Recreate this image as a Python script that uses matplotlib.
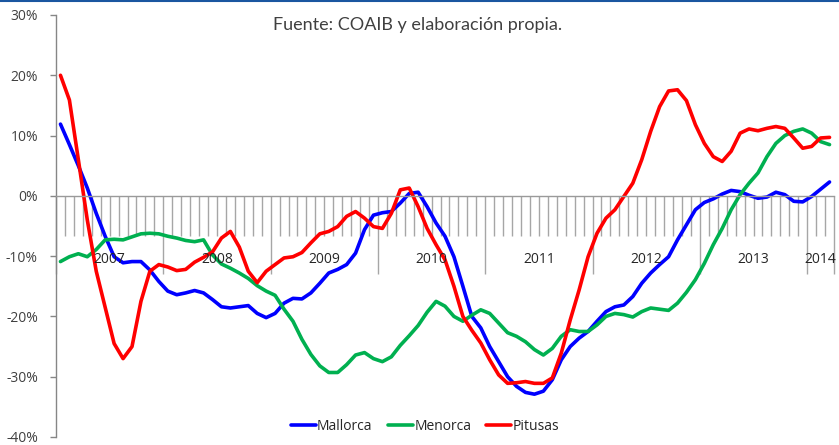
import numpy as np
import matplotlib
matplotlib.use("Agg")
import matplotlib.pyplot as plt
from matplotlib.ticker import FixedLocator, FuncFormatter

plt.rcParams['font.family'] = ['Open Sans', 'DejaVu Sans']

years = ["2007", "2008", "2009", "2010", "2011", "2012", "2013", "2014"]
months_per_year = [12, 12, 12, 12, 12, 12, 12, 3]

mallorca = [11.9, 8.5, 5.0, 1.3, -2.9, -6.7, -10.1, -11.1, -10.9, -10.9,
            -12.3, -14.2, -15.8, -16.4, -16.1, -15.7, -16.1, -17.2, -18.4, -18.6,
            -18.4, -18.2, -19.5, -20.2, -19.5, -17.8, -17.0, -17.1, -16.1, -14.5,
            -12.8, -12.2, -11.4, -9.5, -5.6, -3.2, -2.8, -2.6, -1.2, 0.4,
            0.6, -1.8, -4.5, -6.7, -10.1, -15.0, -20.0, -21.9, -25.0, -27.5,
            -30.0, -31.6, -32.6, -32.9, -32.4, -30.5, -27.2, -25.0, -23.6, -22.5,
            -20.8, -19.2, -18.4, -18.1, -16.7, -14.5, -12.8, -11.4, -10.1, -7.3,
            -4.8, -2.3, -1.1, -0.5, 0.3, 0.9, 0.7, 0.1, -0.4, -0.2,
            0.6, 0.2, -0.9, -1.0, -0.1, 1.1, 2.3]

menorca = [-10.9, -10.1, -9.6, -10.1, -8.9, -7.3, -7.2, -7.3, -6.8, -6.3,
           -6.2, -6.3, -6.7, -7.0, -7.4, -7.6, -7.3, -9.8, -11.3, -12.0,
           -12.8, -13.7, -14.9, -15.8, -16.5, -18.8, -20.8, -23.8, -26.3, -28.2,
           -29.3, -29.3, -28.0, -26.4, -26.0, -27.0, -27.5, -26.7, -24.8, -23.2,
           -21.5, -19.3, -17.5, -18.3, -20.0, -20.8, -19.8, -18.9, -19.5, -21.1,
           -22.7, -23.3, -24.2, -25.5, -26.4, -25.3, -23.3, -22.2, -22.5, -22.5,
           -21.4, -20.0, -19.5, -19.7, -20.1, -19.2, -18.6, -18.8, -19.0, -17.8,
           -16.0, -13.9, -11.2, -8.1, -5.4, -2.3, 0.2, 2.1, 3.8, 6.5,
           8.7, 10.0, 10.7, 11.1, 10.4, 9.0, 8.5]

pitusas = [20.0, 15.9, 6.0, -4.0, -12.5, -18.5, -24.5, -27.0, -25.0, -17.5,
           -12.5, -11.4, -11.8, -12.4, -12.2, -11.0, -10.2, -9.3, -7.0, -5.9,
           -8.5, -12.5, -14.4, -12.5, -11.4, -10.3, -10.1, -9.4, -7.8, -6.3,
           -5.9, -5.1, -3.4, -2.6, -3.7, -5.1, -5.4, -2.9, 1.0, 1.3,
           -1.8, -5.4, -8.1, -10.6, -15.0, -20.0, -22.3, -24.4, -27.2, -29.7,
           -31.1, -31.0, -30.8, -31.1, -31.1, -30.2, -26.1, -20.6, -15.6, -10.1,
           -6.2, -3.7, -2.3, -0.1, 2.1, 6.0, 10.7, 14.8, 17.4, 17.6,
           15.8, 11.8, 8.7, 6.5, 5.7, 7.4, 10.4, 11.1, 10.8, 11.2,
           11.5, 11.2, 9.6, 7.9, 8.2, 9.6, 9.7]

series = [("Mallorca", mallorca, "#0000FF"),
          ("Menorca", menorca, "#00B050"),
          ("Pitusas", pitusas, "#FF0000")]

W, H = 839, 445
fig = plt.figure(figsize=(W / 100, H / 100), dpi=100)
ax = fig.add_axes([56 / W, (H - 437) / H, 778 / W, 422 / H])

n = sum(months_per_year)
x = np.arange(n) + 0.5
for name, vals, col in series:
    ax.plot(x, vals, color=col, lw=2.6, label=name,
            solid_joinstyle='round', solid_capstyle='round')

ax.set_xlim(0, n)
ax.set_ylim(-40, 30)

# spines
for s in ['top', 'right']:
    ax.spines[s].set_visible(False)
ax.spines['left'].set_color('#868686')
ax.spines['left'].set_linewidth(1.0)
ax.spines['bottom'].set_position(('data', 0))
ax.spines['bottom'].set_color('#9a9a9a')
ax.spines['bottom'].set_linewidth(1.0)

# y axis
ax.set_yticks(np.arange(-40, 31, 10))
ax.yaxis.set_major_formatter(FuncFormatter(lambda v, p: f"{int(round(v))}%"))
ax.tick_params(axis='y', direction='out', length=4, width=1, color='#868686',
               labelsize=10, labelcolor='#404040', pad=9)

# x axis: year boundaries (major) and month boundaries (minor)
bounds = np.concatenate([[0], np.cumsum(months_per_year)])
ax.xaxis.set_major_locator(FixedLocator(bounds))
ax.xaxis.set_minor_locator(FixedLocator(np.arange(0, n + 1)))
ax.set_xticklabels([])
ax.tick_params(axis='x', which='major', direction='out', length=56, width=1,
               color='#a6a6a6')
ax.tick_params(axis='x', which='minor', direction='out', length=28.5, width=1,
               color='#a6a6a6')

for k, yr in enumerate(years):
    mid = (bounds[k] + bounds[k + 1]) / 2
    ax.annotate(yr, xy=(mid, 0), xytext=(0, -45.5), textcoords='offset points',
                ha='center', va='center', fontsize=10, color='#262626',
                annotation_clip=False)

# title / source
fig.text(418 / W, 1 - 25 / H, "Fuente: COAIB y elaboración propia.",
         ha='center', va='center', fontsize=13, color='#404040', family=['Lato', 'DejaVu Sans'])

# legend
fig.legend(loc='center', bbox_to_anchor=(425 / W, 1 - 426 / H), ncol=3,
           frameon=False, fontsize=10, handlelength=1.8, handletextpad=0.1,
           columnspacing=1.1, labelcolor='#262626')

# top border
fig.add_artist(plt.Line2D([0, 1], [1 - 0.8 / H, 1 - 0.8 / H],
                          transform=fig.transFigure, color='#1a56a0', lw=1.5))

fig.savefig("out.png", dpi=100)
